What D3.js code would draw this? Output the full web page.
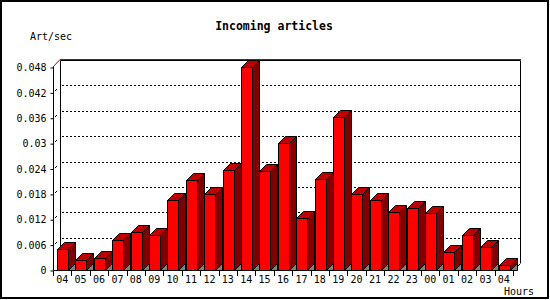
<!DOCTYPE html>
<html>
<head>
<meta charset="utf-8">
<script src="https://cdn.jsdelivr.net/npm/d3@7"></script>
<style>
  body { margin: 0; background: #fff; }
  text { font-family: "DejaVu Sans Mono", monospace; fill: #000; }
</style>
</head>
<body>
<svg width="550" height="300"></svg>
<script>
const hours = ["04","05","06","07","08","09","10","11","12","13","14","15","16",
               "17","18","19","20","21","22","23","00","01","02","03","04"];
const rates = [0.0049, 0.0023, 0.0028, 0.0070, 0.0089, 0.0082, 0.0165, 0.0212, 0.0179,
               0.0236, 0.0481, 0.0233, 0.0300, 0.0122, 0.0214, 0.0361, 0.0179, 0.0165,
               0.0136, 0.0146, 0.0134, 0.0042, 0.0082, 0.0054, 0.0011];
const yTicks = [0, 0.006, 0.012, 0.018, 0.024, 0.03, 0.036, 0.042, 0.048];

const depth = 7;
const plotLeft = 53, plotRight = 513, plotBase = 270, plotTop = 67;

const svg = d3.select("svg");

// outer border
svg.append("rect")
    .attr("x", 1).attr("y", 1)
    .attr("width", 547).attr("height", 297)
    .attr("fill", "#fff")
    .attr("stroke", "#000")
    .attr("stroke-width", 2);

const x = d3.scaleBand()
    .domain(d3.range(hours.length))
    .range([plotLeft, plotRight]);

const y = d3.scaleLinear()
    .domain([0, 0.048])
    .range([plotBase, plotTop]);

// back plane gridlines (dotted)
svg.append("g")
    .selectAll("line")
    .data(yTicks.slice(1, -1))
    .enter().append("line")
    .attr("x1", plotLeft + depth + 2).attr("x2", plotRight + depth)
    .attr("y1", d => Math.round(y(d)) - depth + 0.5)
    .attr("y2", d => Math.round(y(d)) - depth + 0.5)
    .attr("stroke", "#000")
    .attr("stroke-dasharray", "2,2");

// back frame
const frame = svg.append("g").attr("fill", "none").attr("stroke", "#000");
frame.append("path")
    .attr("d", `M${plotLeft + depth + 0.5},${plotBase - depth} V${plotTop - depth + 0.5} H${plotRight + depth + 0.5} V${plotBase - depth}`);
frame.append("path")
    .attr("d", `M${plotRight + 0.5},${plotBase + 0.5} L${plotRight + depth + 0.5},${plotBase - depth + 0.5}`);

// red max line on top
svg.append("path")
    .attr("d", `M${plotLeft},${plotTop} L${plotLeft + depth},${plotTop - depth - 0.5} H${plotRight + depth + 1}`)
    .attr("fill", "none")
    .attr("stroke", "#c00000");

// bars
const bars = svg.append("g")
    .selectAll("g")
    .data(rates)
    .enter().append("g");

const bx = i => Math.round(x(i)) + 4.5;
const bw = 11;

// floor shadow
bars.append("path")
    .attr("d", (d, i) => {
        const x1 = bx(i) + bw;
        return `M${x1},${plotBase + 0.5} L${x1 + depth},${plotBase - depth + 0.5} V${plotBase + 0.5} Z`;
    })
    .attr("fill", "#808080")
    .attr("stroke", "#000");

// side
bars.append("path")
    .attr("d", (d, i) => {
        const x1 = bx(i) + bw, yt = Math.round(y(d)) + 0.5;
        return `M${x1},${yt} L${x1 + depth},${yt - depth} V${plotBase - depth + 0.5} L${x1},${plotBase + 0.5} Z`;
    })
    .attr("fill", "#800000")
    .attr("stroke", "#000");

// top
bars.append("path")
    .attr("d", (d, i) => {
        const x0 = bx(i), yt = Math.round(y(d)) + 0.5;
        return `M${x0},${yt} L${x0 + depth},${yt - depth} H${x0 + bw + depth} L${x0 + bw},${yt} Z`;
    })
    .attr("fill", "#c00000")
    .attr("stroke", "#000");

// front
bars.append("rect")
    .attr("x", (d, i) => bx(i))
    .attr("y", d => Math.round(y(d)) + 0.5)
    .attr("width", bw)
    .attr("height", d => plotBase - Math.round(y(d)))
    .attr("fill", "#ff0000")
    .attr("stroke", "#000");

// y axis
const yAxis = svg.append("g")
    .attr("transform", `translate(${plotLeft + 0.5},0.5)`)
    .call(d3.axisLeft(y)
        .tickValues(yTicks)
        .tickSize(3)
        .tickPadding(4)
        .tickFormat(d3.format("~g")));
yAxis.select(".domain").remove();
yAxis.selectAll("text").style("font-family", "DejaVu Sans Mono").style("font-size", "10px");
yAxis.selectAll(".tick line").attr("stroke", "#000");

svg.append("line")
    .attr("x1", plotLeft + 0.5).attr("x2", plotLeft + 0.5)
    .attr("y1", plotTop).attr("y2", plotBase + 1)
    .attr("stroke", "#000");

// small 3d tick marks
svg.append("g")
    .selectAll("line")
    .data(yTicks.slice(1, -1))
    .enter().append("line")
    .attr("x1", plotLeft + 2).attr("x2", plotLeft + 4)
    .attr("y1", d => Math.round(y(d)) - 1)
    .attr("y2", d => Math.round(y(d)) - 3)
    .attr("stroke", "#000");

// x axis
svg.append("line")
    .attr("x1", plotLeft).attr("x2", plotRight + 1)
    .attr("y1", plotBase + 0.5).attr("y2", plotBase + 0.5)
    .attr("stroke", "#000");

svg.append("g")
    .selectAll("line")
    .data(d3.range(hours.length + 1))
    .enter().append("line")
    .attr("x1", i => Math.round(plotLeft + i * x.step()) + 0.5)
    .attr("x2", i => Math.round(plotLeft + i * x.step()) + 0.5)
    .attr("y1", plotBase).attr("y2", plotBase + 6)
    .attr("stroke", "#000");

const xAxis = svg.append("g")
    .attr("transform", `translate(0,${plotBase})`)
    .call(d3.axisBottom(x)
        .tickSize(0)
        .tickPadding(6)
        .tickFormat(i => hours[i]));
xAxis.select(".domain").remove();
xAxis.selectAll("text").style("font-family", "DejaVu Sans Mono").style("font-size", "10px");

// titles
svg.append("text")
    .attr("x", 274).attr("y", 30)
    .attr("text-anchor", "middle")
    .style("font-size", "11.5px")
    .style("font-weight", "bold")
    .text("Incoming articles");

svg.append("text")
    .attr("x", 30).attr("y", 40)
    .style("font-size", "10px")
    .text("Art/sec");

svg.append("text")
    .attr("x", 504).attr("y", 295)
    .style("font-size", "10px")
    .text("Hours");
</script>
</body>
</html>
